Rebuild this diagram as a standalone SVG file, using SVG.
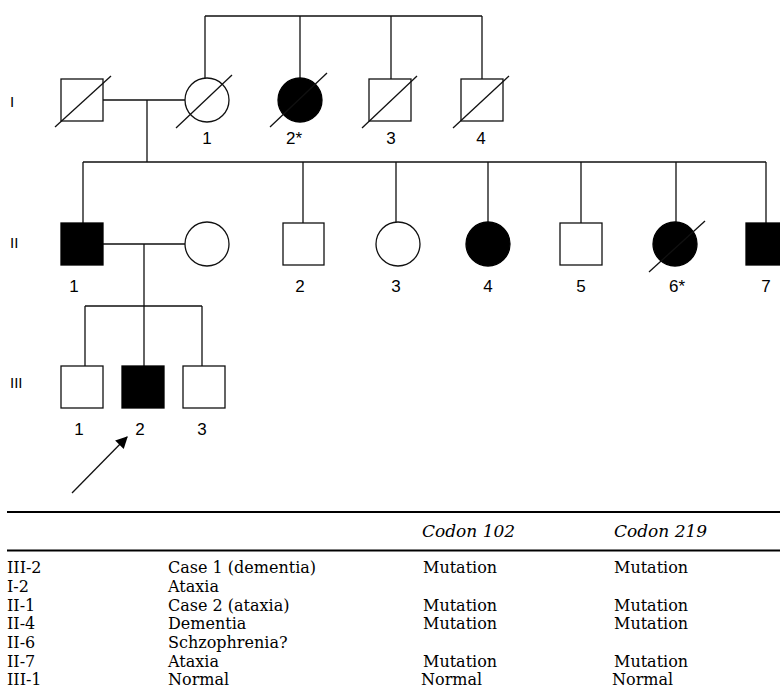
<svg xmlns="http://www.w3.org/2000/svg" width="780" height="692" viewBox="0 0 780 692">
<defs>
<style>
.ln{stroke:#111;stroke-width:1.3;fill:none}
.open{fill:#fff;stroke:#111;stroke-width:1.3}
.aff{fill:#000;stroke:#000;stroke-width:1.3}
.sl{stroke:#111;stroke-width:1.3}
.num{font-family:"Liberation Sans",Arial,sans-serif;font-size:17px;fill:#000;text-anchor:middle}
.gen{font-family:"Liberation Sans",Arial,sans-serif;font-size:15px;fill:#000}
.tb{font-family:"DejaVu Serif","Liberation Serif",serif;font-size:16px;fill:#000}
.hd{font-family:"DejaVu Serif","Liberation Serif",serif;font-size:17px;font-style:italic;fill:#000}
.rule{stroke:#000;stroke-width:2}
</style>
<marker id="ah" viewBox="0 0 10 10" refX="9" refY="5" markerWidth="18" markerHeight="12" markerUnits="userSpaceOnUse" orient="auto">
<path d="M0,0 L10,5 L0,10 z" fill="#000"/>
</marker>
</defs>
<rect width="780" height="692" fill="#fff"/>

<g id="connectors">
<path class="ln" d="M205,16 H482 M205,16 V78 M300,16 V78 M391,16 V79 M482,16 V79"/>
<path class="ln" d="M103,100 H185 M147,100 V162"/>
<path class="ln" d="M83,162 H766 M83,162 V223 M303,162 V223 M396,162 V222 M488,162 V222 M581,162 V223 M676,162 V222 M766,162 V223"/>
<path class="ln" d="M103,244 H185 M144,244 V306"/>
<path class="ln" d="M85,306 H202 M85,306 V366 M144,306 V366 M202,306 V366"/>
<line class="ln" x1="72" y1="493" x2="127" y2="437" marker-end="url(#ah)"/>
</g>

<g id="gen-labels">
<text class="gen" x="10" y="107">I</text>
<text class="gen" x="10" y="248">II</text>
<text class="gen" x="10" y="388">III</text>
</g>

<g id="I-father">
<rect class="open" x="61" y="79" width="42" height="42"/>
<line class="sl" x1="55" y1="127" x2="111" y2="76"/>
</g>
<g id="I-1">
<circle class="open" cx="207" cy="100" r="22"/>
<line class="sl" x1="176" y1="128" x2="232" y2="75"/>
<text class="num" x="207" y="144">1</text>
</g>
<g id="I-2">
<circle class="aff" cx="300" cy="100" r="22"/>
<line class="sl" x1="270" y1="127" x2="327" y2="73"/>
<text class="num" x="294" y="144">2*</text>
</g>
<g id="I-3">
<rect class="open" x="369" y="79" width="42" height="42"/>
<line class="sl" x1="362" y1="128" x2="417" y2="76"/>
<text class="num" x="391" y="144">3</text>
</g>
<g id="I-4">
<rect class="open" x="461" y="79" width="42" height="42"/>
<line class="sl" x1="453" y1="128" x2="509" y2="76"/>
<text class="num" x="481" y="144">4</text>
</g>

<g id="II-1">
<rect class="aff" x="61" y="223" width="42" height="42"/>
<text class="num" x="74" y="292">1</text>
</g>
<g id="II-spouse">
<circle class="open" cx="207" cy="244" r="22"/>
</g>
<g id="II-2">
<rect class="open" x="283" y="223" width="41" height="42"/>
<text class="num" x="300" y="292">2</text>
</g>
<g id="II-3">
<circle class="open" cx="398" cy="244" r="22"/>
<text class="num" x="396" y="292">3</text>
</g>
<g id="II-4">
<circle class="aff" cx="488" cy="244" r="22"/>
<text class="num" x="488" y="292">4</text>
</g>
<g id="II-5">
<rect class="open" x="560" y="223" width="42" height="42"/>
<text class="num" x="581" y="292">5</text>
</g>
<g id="II-6">
<circle class="aff" cx="675" cy="244" r="22"/>
<line class="sl" x1="649" y1="272" x2="705" y2="221"/>
<text class="num" x="677" y="292">6*</text>
</g>
<g id="II-7">
<rect class="aff" x="746" y="223" width="42" height="42"/>
<text class="num" x="766" y="292">7</text>
</g>

<g id="III-1">
<rect class="open" x="61" y="366" width="42" height="42"/>
<text class="num" x="79" y="435">1</text>
</g>
<g id="III-2">
<rect class="aff" x="122" y="366" width="42" height="42"/>
<text class="num" x="140" y="435">2</text>
</g>
<g id="III-3">
<rect class="open" x="183" y="366" width="42" height="42"/>
<text class="num" x="202" y="435">3</text>
</g>

<g id="table">
<line class="rule" x1="7" y1="512" x2="780" y2="512"/>
<line class="rule" x1="7" y1="550.5" x2="780" y2="550.5"/>
<text class="hd" x="422" y="537">Codon 102</text>
<text class="hd" x="614" y="537">Codon 219</text>
<g class="tb">
<text x="7" y="573">III-2</text><text x="168" y="573">Case 1 (dementia)</text><text x="423" y="573">Mutation</text><text x="614" y="573">Mutation</text>
<text x="7" y="592">I-2</text><text x="168" y="592">Ataxia</text>
<text x="7" y="611">II-1</text><text x="168" y="611">Case 2 (ataxia)</text><text x="423" y="611">Mutation</text><text x="614" y="611">Mutation</text>
<text x="7" y="629">II-4</text><text x="168" y="629">Dementia</text><text x="423" y="629">Mutation</text><text x="614" y="629">Mutation</text>
<text x="7" y="648">II-6</text><text x="168" y="648">Schzophrenia?</text>
<text x="7" y="667">II-7</text><text x="168" y="667">Ataxia</text><text x="423" y="667">Mutation</text><text x="614" y="667">Mutation</text>
<text x="7" y="685">III-1</text><text x="168" y="685">Normal</text><text x="421" y="685">Normal</text><text x="612" y="685">Normal</text>
</g>
</g>
</svg>
